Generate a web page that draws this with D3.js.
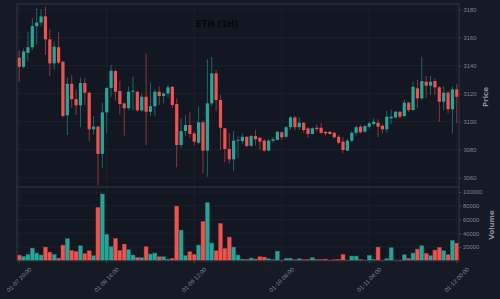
<!DOCTYPE html>
<html>
<head>
<meta charset="utf-8">
<script src="https://cdn.jsdelivr.net/npm/d3@7"></script>
<style>
  html, body { margin: 0; padding: 0; background: #161a25; }
  svg { display: block; font-family: "DejaVu Sans", sans-serif; }
  .axis path { display: none; }
  .axis line { stroke: #3a3f4b; }
  .axis text { fill: #80848e; font-size: 5.8px; }
</style>
</head>
<body>
<svg id="chart" width="500" height="299"></svg>
<script>
// ETH 1H candles, 01-07 20:00 -> 01-12 00:00
var startTime = "2025-01-07 20:00";
var tickLabels = ["01-07 20:00", "01-08 16:00", "01-09 12:00", "01-10 08:00", "01-11 04:00", "01-12 00:00"];

var opens = [3145.5, 3139, 3149, 3153, 3168, 3170.5, 3175, 3158.6, 3141.5, 3153,
  3142.7, 3104.5, 3127, 3116, 3111.6, 3127.5, 3120.6, 3094.5, 3096.4, 3077,
  3106.6, 3124, 3136, 3121.8, 3113, 3109.5, 3121.3, 3121.3, 3108, 3117.7,
  3107, 3111, 3121.3, 3118.2, 3120, 3124.8, 3112.5, 3083.3, 3093.3, 3097.6,
  3091.6, 3085, 3099.5, 3079.3, 3113, 3134.4, 3115.4, 3095.2, 3080.5, 3073.1,
  3086.4, 3086, 3089.2, 3082.8, 3089.7, 3088.5, 3086.4, 3079.3, 3086.4, 3087,
  3092.4, 3089.2, 3096, 3103, 3096, 3099.2, 3095.2, 3091.2, 3095.6, 3095.6,
  3092.8, 3092.8, 3092, 3089.2, 3085.7, 3079.3, 3086.4, 3092, 3096.4, 3092.8,
  3096.4, 3098.3, 3099.2, 3097, 3094.5, 3102.3, 3103, 3107, 3104, 3113.5,
  3108.2, 3123.7, 3116.6, 3128.4, 3125.6, 3128.9, 3124.4, 3114.2, 3120.6, 3108.8,
  3123];
var highs = [3151, 3152, 3164, 3173.6, 3180.7, 3180, 3182, 3165.7, 3157, 3164,
  3143, 3131.5, 3133, 3123, 3131.5, 3131, 3121, 3104, 3097, 3113.5,
  3124.5, 3140.3, 3137, 3129, 3113.5, 3125, 3132, 3122, 3120, 3148.6,
  3127.6, 3123, 3125, 3121, 3126, 3125.5, 3116.6, 3102.3, 3104.5, 3106.8,
  3093, 3111, 3101, 3144.4, 3146, 3136.8, 3119, 3095.5, 3092, 3093.4,
  3090, 3091.5, 3089.5, 3090.5, 3094, 3089, 3087.5, 3087.5, 3089, 3093,
  3093, 3097, 3104, 3104, 3103, 3099.5, 3096, 3096, 3098, 3099,
  3093, 3093.2, 3093, 3090.5, 3088.8, 3088, 3093.3, 3097.4, 3097.6, 3097.6,
  3100, 3102.3, 3101.6, 3098.4, 3107.6, 3108.6, 3107.6, 3107.6, 3115.8, 3114,
  3128.3, 3129.6, 3146.2, 3132.6, 3132.6, 3130.8, 3125.4, 3125.4, 3122, 3124.9,
  3126.6];
var lows = [3128.4, 3138, 3143, 3151, 3155, 3168, 3147.5, 3132.5, 3137, 3141,
  3103, 3090.4, 3110, 3104.7, 3096, 3112, 3085.7, 3091, 3054.8, 3067,
  3092, 3117.7, 3115, 3105, 3090, 3108, 3108, 3107, 3107, 3083.3,
  3104, 3104, 3112, 3113, 3117, 3109.6, 3067.4, 3081, 3090, 3088.5,
  3083, 3084, 3063, 3060.7, 3111, 3107.4, 3080, 3071, 3070, 3065,
  3074, 3084, 3081.7, 3082, 3083, 3080, 3078.5, 3079, 3085, 3086.5,
  3087, 3088, 3094, 3094, 3094, 3092, 3088.5, 3091, 3093, 3091,
  3090, 3090.6, 3088, 3084, 3077.4, 3079, 3085, 3090, 3091.6, 3092,
  3095, 3097, 3089, 3091.6, 3092, 3098, 3102, 3102, 3103, 3106.8,
  3108, 3109.5, 3115.4, 3117, 3119, 3118.9, 3099.9, 3108, 3106, 3091.6,
  3098.8];
var closes = [3139, 3150, 3153, 3168, 3170.5, 3175, 3158.6, 3141.5, 3153.4, 3142,
  3104, 3127, 3116, 3111.6, 3127.5, 3120.6, 3094.5, 3096.4, 3077, 3106.6,
  3124, 3136.3, 3121.3, 3112.5, 3109.5, 3121.3, 3122, 3108, 3117.7, 3107,
  3111, 3121.3, 3118.2, 3120, 3124.4, 3111.8, 3083.3, 3093.3, 3097.6, 3091.2,
  3085.7, 3099.5, 3079.3, 3113, 3134.4, 3115.4, 3095.6, 3080.5, 3073.1, 3086.4,
  3087, 3089.2, 3082.6, 3089.7, 3087.4, 3085.7, 3079.3, 3086.4, 3087.4, 3092.8,
  3088.8, 3096, 3103, 3096, 3099.2, 3094, 3091.2, 3095.2, 3094.7, 3092,
  3091.6, 3091.2, 3088.8, 3085, 3079.8, 3086.4, 3092, 3096, 3092.4, 3096.8,
  3098.8, 3099.9, 3096.4, 3094.5, 3103.5, 3103.5, 3107, 3103.5, 3113.5, 3108.2,
  3124.8, 3116.6, 3128.9, 3125.6, 3128.4, 3124.4, 3114.2, 3120.6, 3108.8, 3123,
  3117.7];
var volumes = [8200, 6300, 9200, 18400, 11200, 8300, 19900, 12600, 9200, 3900,
  22800, 32000, 15000, 13600, 21800, 10200, 14500, 7300, 77600, 97000,
  38300, 20400, 32500, 15000, 24200, 16000, 8300, 4800, 4400, 20400,
  9700, 11200, 5800, 5800, 2400, 3400, 79500, 44600, 7300, 13100,
  9200, 22800, 57200, 84400, 25700, 14500, 54300, 17900, 34400, 19900,
  8300, 2400, 2000, 3900, 2400, 5800, 5300, 2900, 1500, 14000,
  1000, 3400, 3400, 1500, 2900, 1500, 1900, 4400, 1900, 1900,
  2400, 1000, 1500, 1900, 9200, 1000, 6800, 6800, 1900, 1000,
  7800, 1900, 19900, 1000, 2900, 18900, 1000, 1000, 8700, 3400,
  11200, 17000, 21800, 10700, 7300, 15500, 19400, 14500, 8700, 29600,
  25700];

var priceTicks = [3060, 3080, 3100, 3120, 3140, 3160, 3180];
var volumeTicks = [20000, 40000, 60000, 80000, 100000];

var upColor = "#26a69a";
var downColor = "#ef5350";

// パネルの配置
var plot = { left: 17, right: 459, top: 4, mid: 187, bottom: 260.75 };

var parseTime = d3.timeParse("%Y-%m-%d %H:%M");
var fmt = d3.timeFormat("%m-%d %H:%M");
var t0 = parseTime(startTime);

var data = opens.map(function(o, i) {
  return {
    time: fmt(d3.timeHour.offset(t0, i)),
    open: o, high: highs[i], low: lows[i], close: closes[i], volume: volumes[i]
  };
});

function colorOf(d) { return d.close >= d.open ? upColor : downColor; }

var svg = d3.select("#chart");

var x = d3.scaleBand()
  .domain(data.map(function(d) { return d.time; }))
  .range([plot.left, plot.right])
  .padding(0);
var bw = x.bandwidth();
function cx(d) { return x(d.time) + bw / 2; }

var y = d3.scaleLinear().domain([3053.4, 3183.8]).range([plot.mid, plot.top]);
var yv = d3.scaleLinear().domain([0, 107270]).range([plot.bottom, plot.mid]);

// 背景
svg.append("rect")
  .attr("x", plot.left).attr("y", plot.top)
  .attr("width", plot.right - plot.left).attr("height", plot.bottom - plot.top)
  .attr("fill", "#131722");

// グリッド
var grid = svg.append("g").attr("stroke", "#1d222e").attr("stroke-width", 0.8);
grid.selectAll("line.gx")
  .data(tickLabels)
  .enter().append("line")
  .attr("x1", function(d) { return x(d) + bw / 2; })
  .attr("x2", function(d) { return x(d) + bw / 2; })
  .attr("y1", plot.top).attr("y2", plot.bottom);
grid.selectAll("line.gy")
  .data(priceTicks)
  .enter().append("line")
  .attr("x1", plot.left).attr("x2", plot.right)
  .attr("y1", function(d) { return y(d); }).attr("y2", function(d) { return y(d); });
grid.selectAll("line.gv")
  .data(volumeTicks)
  .enter().append("line")
  .attr("x1", plot.left).attr("x2", plot.right)
  .attr("y1", function(d) { return yv(d); }).attr("y2", function(d) { return yv(d); });

// ローソク足
var candles = svg.append("g");
candles.selectAll("line.wick")
  .data(data)
  .enter().append("line")
  .attr("x1", cx).attr("x2", cx)
  .attr("y1", function(d) { return y(d.high); })
  .attr("y2", function(d) { return y(d.low); })
  .attr("stroke", colorOf)
  .attr("stroke-opacity", 0.55)
  .attr("stroke-width", 1);

candles.selectAll("rect.body")
  .data(data)
  .enter().append("rect")
  .attr("x", function(d) { return cx(d) - 1.6; })
  .attr("width", 3.2)
  .attr("y", function(d) { return y(Math.max(d.open, d.close)); })
  .attr("height", function(d) { return Math.max(0.8, Math.abs(y(d.open) - y(d.close))); })
  .attr("fill", colorOf);

// 出来高
svg.append("g").selectAll("rect")
  .data(data)
  .enter().append("rect")
  .attr("x", function(d) { return x(d.time) + 0.2; })
  .attr("width", bw - 0.4)
  .attr("y", function(d) { return yv(d.volume); })
  .attr("height", function(d) { return plot.bottom - yv(d.volume); })
  .attr("fill", colorOf)
  .attr("stroke", function(d) { return d3.color(colorOf(d)).darker(0.9); })
  .attr("stroke-width", 0.5);

// 枠線
var frame = svg.append("g").attr("fill", "none").attr("stroke", "#343844").attr("stroke-width", 1);
frame.append("rect")
  .attr("x", plot.left).attr("y", plot.top)
  .attr("width", plot.right - plot.left).attr("height", plot.bottom - plot.top);
frame.append("line")
  .attr("x1", plot.left).attr("x2", plot.right)
  .attr("y1", plot.mid).attr("y2", plot.mid);

// 軸
svg.append("g")
  .attr("class", "axis")
  .attr("transform", "translate(" + plot.right + ",0)")
  .call(d3.axisRight(y).tickValues(priceTicks).tickSize(2.5).tickPadding(2).tickFormat(d3.format("d")));

svg.append("g")
  .attr("class", "axis")
  .attr("transform", "translate(" + plot.right + ",0)")
  .call(d3.axisRight(yv).tickValues(volumeTicks).tickSize(2.5).tickPadding(1.5).tickFormat(d3.format("d")));

var xAxis = svg.append("g")
  .attr("class", "axis")
  .attr("transform", "translate(0," + plot.bottom + ")")
  .call(d3.axisBottom(x).tickValues(tickLabels).tickSize(2.5));
xAxis.selectAll("text")
  .attr("text-anchor", "middle")
  .attr("dy", null)
  .attr("y", 0)
  .attr("dominant-baseline", "central")
  .style("font-size", "6px")
  .attr("transform", "translate(0,19) rotate(-45)");

// ラベル
svg.append("text")
  .attr("transform", "translate(486,97) rotate(-90)")
  .attr("text-anchor", "middle")
  .attr("dominant-baseline", "central")
  .attr("fill", "#8a8e97")
  .style("font-size", "7px")
  .style("font-weight", "bold")
  .text("Price");

svg.append("text")
  .attr("transform", "translate(492,225) rotate(-90)")
  .attr("text-anchor", "middle")
  .attr("dominant-baseline", "central")
  .attr("fill", "#8a8e97")
  .style("font-size", "7px")
  .style("font-weight", "bold")
  .text("Volume");

svg.append("text")
  .attr("x", 217).attr("y", 27.3)
  .attr("text-anchor", "middle")
  .attr("fill", "#06080c")
  .style("font-size", "8.5px")
  .style("font-weight", "bold")
  .text("ETH (1H)");
</script>
</body>
</html>
